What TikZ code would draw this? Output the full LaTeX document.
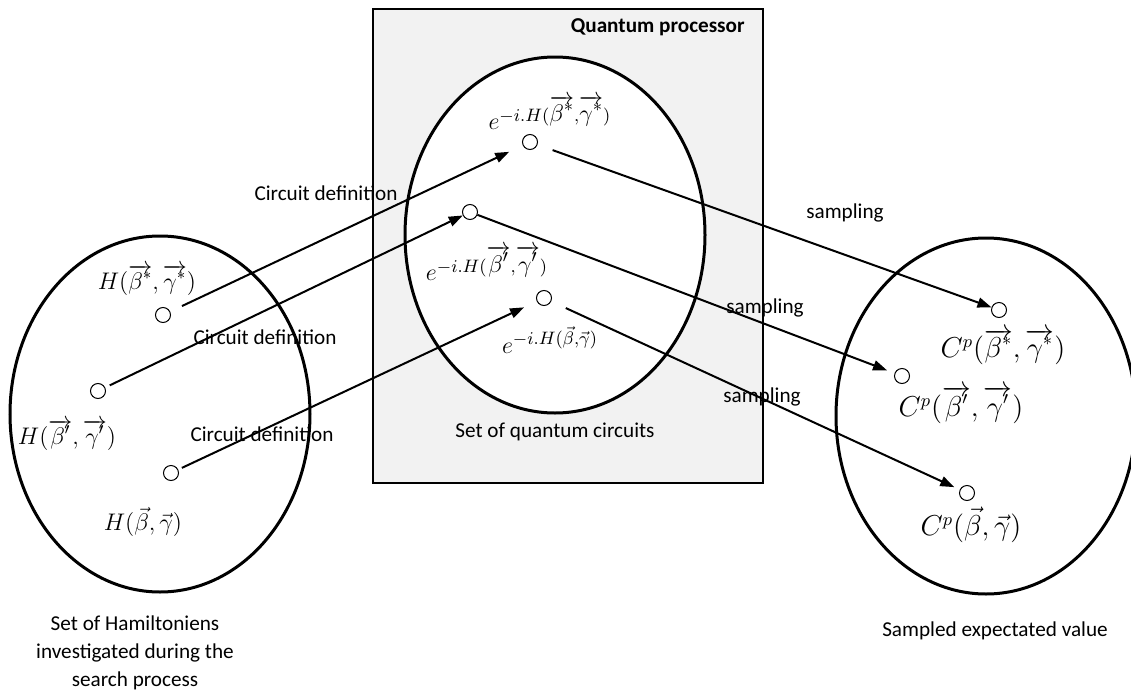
\documentclass[tikz,border=0pt]{standalone}
\usepackage{fontspec}
\setmainfont{Carlito}
\usetikzlibrary{arrows.meta,shapes.geometric}
\definecolor{boxgray}{HTML}{F2F2F2}
\begin{document}
\begin{tikzpicture}[x=0.5pt,y=-0.5pt,
  txt/.style={font=\fontsize{10.6}{14}\selectfont, inner sep=0},
  dot/.style={circle, draw, line width=0.5pt, minimum size=7.5pt, inner sep=0, fill=white},
  setell/.style={ellipse, draw, line width=1.5pt, minimum width=150pt, minimum height=178pt, inner sep=0},
  conn/.style={line width=1pt, -{Triangle[length=7pt,width=5pt]}},
  hlab/.style={inner sep=0, font=\fontsize{11.5}{14}\selectfont},
  elab/.style={inner sep=0, font=\fontsize{13}{16}\selectfont},
  clab/.style={inner sep=0, font=\fontsize{13.5}{16}\selectfont}
]
\useasboundingbox (0,0) rectangle (1131,691);
% quantum processor box
\node[draw, line width=0.75pt, fill=boxgray, minimum width=195pt, minimum height=237pt, anchor=north west, inner sep=0] (qp) at (372,8) {};
\node[txt, font=\fontsize{10.6}{14}\selectfont\bfseries, anchor=east] (qpt) at (745,27) {Quantum processor};
% sets
\node[setell] (LE) at (160,414) {};
\node[setell, fill=white] (ME) at (555,235) {};
\node[setell] (RE) at (986,416) {};
% dots
\node[dot] (L1) at (163,315) {};
\node[dot] (L2) at (98,391) {};
\node[dot] (L3) at (171,473) {};
\node[dot] (M1) at (530,142) {};
\node[dot] (M2) at (470,212) {};
\node[dot] (M3) at (544,298) {};
\node[dot] (R1) at (999,310) {};
\node[dot] (R2) at (902,376) {};
\node[dot] (R3) at (967,493) {};
% math labels
\node[hlab] (hL1) at (147,280) {$H(\overrightarrow{\beta^{*}},\overrightarrow{\gamma^{*}})$};
\node[hlab] (hL2) at (67,435) {$H(\overrightarrow{\beta'},\overrightarrow{\gamma'})$};
\node[hlab] (hL3) at (143,522) {$H(\vec{\beta},\vec{\gamma})$};
\node[elab] (eM1) at (550,113) {$e^{-i.H(\overrightarrow{\beta^{*}},\overrightarrow{\gamma^{*}})}$};
\node[elab] (eM2) at (487,263) {$e^{-i.H(\overrightarrow{\beta'},\overrightarrow{\gamma'})}$};
\node[elab] (eM3) at (550,340) {$e^{-i.H(\vec{\beta},\vec{\gamma})}$};
\node[clab] (cR1) at (1003,347) {$C^{p}(\overrightarrow{\beta^{*}},\overrightarrow{\gamma^{*}})$};
\node[clab] (cR2) at (961,405) {$C^{p}(\overrightarrow{\beta'},\overrightarrow{\gamma'})$};
\node[clab] (cR3) at (971,525) {$C^{p}(\vec{\beta},\vec{\gamma})$};
% connectors
\draw[conn, shorten <=6.5pt, shorten >=7.5pt] (L1) -- (M1);
\draw[conn, shorten <=2.5pt] (L2) -- (M2);
\draw[conn, shorten <=2pt, shorten >=7pt] (L3) -- (M3);
\draw[conn, shorten <=8pt] (M1) -- (R1);
\draw[conn, shorten >=4pt] (M2) -- (R2);
\draw[conn, shorten <=8pt, shorten >=3pt] (M3) -- (R3);
% connector labels
\node[txt] (cd1) at (326,193) {Circuit definition};
\node[txt] (cd2) at (265,337) {Circuit definition};
\node[txt] (cd3) at (262,434) {Circuit definition};
\node[txt] (sp1) at (845,213) {sampling};
\node[txt] (sp2) at (765,308) {sampling};
\node[txt] (sp3) at (762,397) {sampling};
% set captions
\node[txt, align=center] (capL) at (135,653) {Set of Hamiltoniens\\investigated during the\\search process};
\node[txt] (capM) at (555,432) {Set of quantum circuits};
\node[txt] (capR) at (995,631) {Sampled expectated value};
\end{tikzpicture}
\end{document}
